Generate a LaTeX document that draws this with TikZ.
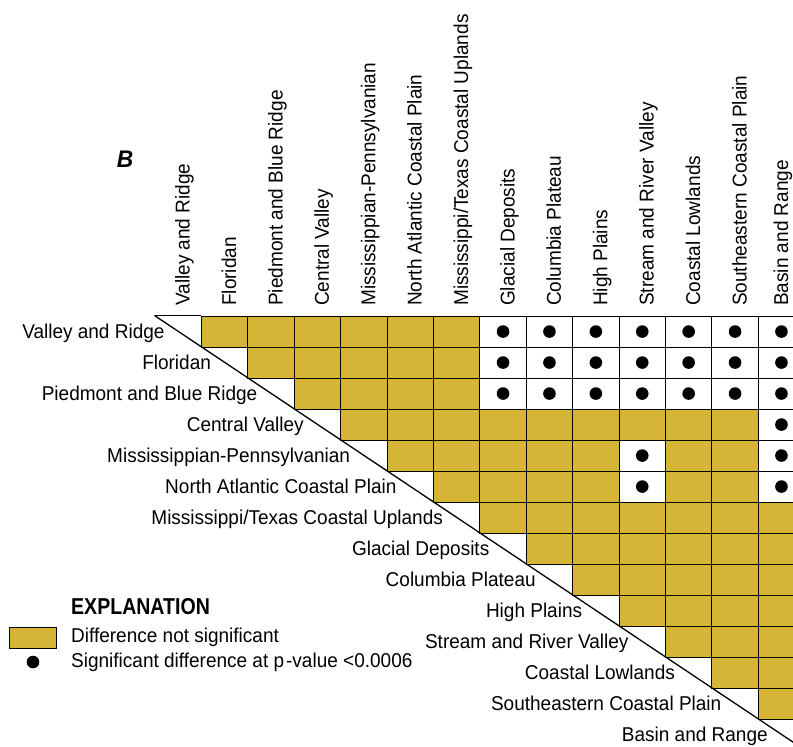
\documentclass[tikz,border=0pt]{standalone}
\usepackage{fontspec}
\setmainfont{Liberation Sans}[FakeStretch=0.95]
\newfontfamily\narrowbold{Liberation Sans}[FakeStretch=0.85]
\usetikzlibrary{calc}

\definecolor{nsgold}{RGB}{214,180,54}
\tikzset{
  cellbox/.style={draw=black, line width=1.1pt, minimum width=46.4pt, minimum height=31pt, inner sep=0pt, anchor=north west},
  goldcell/.style={cellbox, fill=nsgold},
  dotcell/.style={cellbox, fill=white},
  rowlabel/.style={inner sep=0pt, anchor=base east},
  collabel/.style={inner sep=0pt, anchor=base west, rotate=90},
}

\begin{document}
\begin{tikzpicture}[x=1pt,y=-1pt,font=\fontsize{20}{24}\selectfont]
                \useasboundingbox (0,0) rectangle (793,747);
                \clip (0,0) rectangle (793,747);
                \def\xo{154.5}
                \def\yo{315.5}
                \def\cw{46.4}
                \def\ch{31}
                \coordinate (diagA) at (\xo,\yo);
                \coordinate (diagB) at (\xo+14*\cw,\yo+14*\ch);
                
                \foreach \i in {0,...,12}{
                    \pgfmathtruncatemacro\jstart{\i+1}
                    \foreach \j in {\jstart,...,13}{
                        \pgfmathtruncatemacro\isdot{((\i<3)&&(\j>6)) || ((\i<6)&&(\j==13)) || (((\i==4)||(\i==5))&&(\j==10))}
                        \ifnum\isdot=1
                            \node[dotcell] (c-\i-\j) at (\xo+\j*\cw,\yo+\i*\ch) {};
                            \fill (c-\i-\j.center) circle (6.3);
                        \else
                            \node[goldcell] (c-\i-\j) at (\xo+\j*\cw,\yo+\i*\ch) {};
                        \fi
                    }
                }
                \draw[line width=1.1pt] (diagA) -- (c-0-1.north west);
                \draw[line width=1.3pt] (diagA) -- (diagB);
                
                \foreach \name [count=\i from 0] in {Valley and Ridge, Floridan, Piedmont and Blue Ridge, Central Valley, Mississippian-Pennsylvanian, North Atlantic Coastal Plain, Mississippi/Texas Coastal Uplands, Glacial Deposits, Columbia Plateau, High Plains, Stream and River Valley, Coastal Lowlands, Southeastern Coastal Plain, Basin and Range}{
                    \node[rowlabel] (r-\i) at (\xo+\i*\cw+0.5*\cw-13,\yo+\i*\ch+0.5*\ch+7) {\name};
                    \pgfmathsetmacro\colx{min(\xo+\i*\cw+0.5*\cw+12,788)}
                    \node[collabel] (k-\i) at (\colx,306) {\name};
                }
                
                \node[font=\fontsize{24}{26}\selectfont\bfseries\itshape] (panel) at (125,159) {B};
                
                % explanation
                \node[anchor=west, inner sep=0pt, font=\fontsize{23}{26}\selectfont\narrowbold\bfseries] (expl) at (71,607) {EXPLANATION};
                \node[draw=black, line width=1pt, fill=nsgold, minimum width=47pt, minimum height=21pt, inner sep=0pt] (legbox) at (32.5,637.5) {};
                \node[anchor=west, inner sep=0pt] (legtxt) at (71,637) {Difference not significant};
                \coordinate (legdot) at (33,662);
                \fill (legdot) circle (6.3);
                \node[anchor=west, inner sep=0pt] (dottxt) at (71,662) {Significant difference at p\kern2pt-value <0.0006};
\end{tikzpicture}
\end{document}
